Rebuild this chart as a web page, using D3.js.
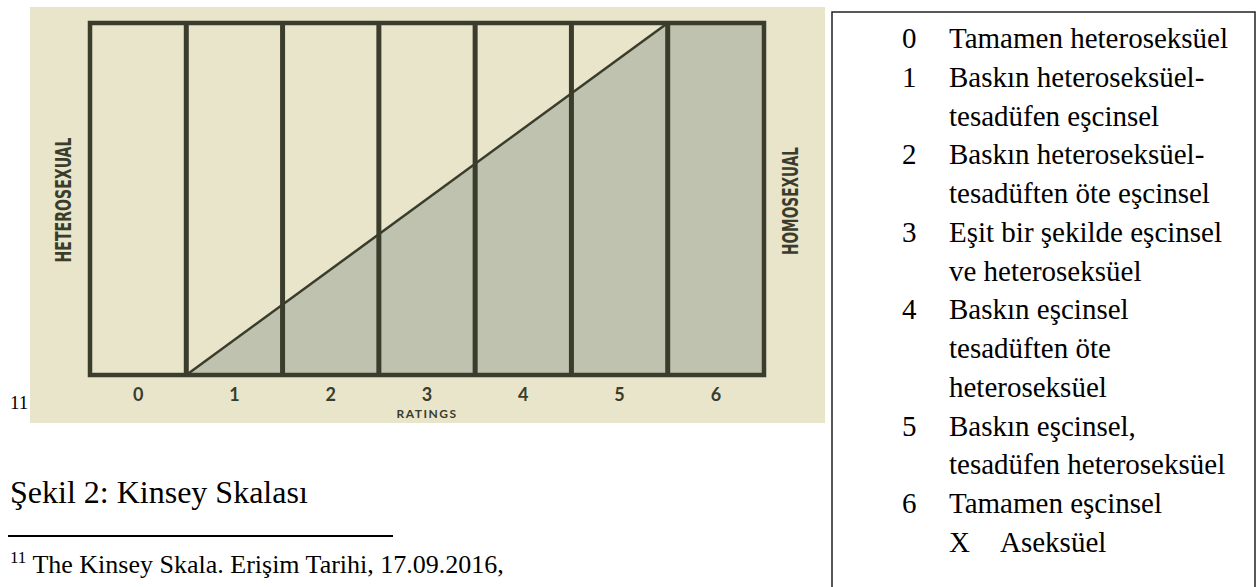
<!DOCTYPE html>
<html>
<head>
<meta charset="utf-8">
<script src="https://cdn.jsdelivr.net/npm/d3@7"></script>
<style>
  body { margin: 0; background: #fff; }
  svg { display: block; }
</style>
</head>
<body>
<div id="body"></div>
<script>
// Kinsey scale data
var ratings = ['0', '1', '2', '3', '4', '5', '6'];
// shaded (homosexual) share along the rating axis, x in rating units
var shadeX = [1, 6, 7];
var shadeTop = [0, 1, 1];

// legend
var legendCodes = ['0', '1', '2', '3', '4', '5', '6', 'X'];
var legendLabels = [
  ['Tamamen heteroseksüel'],
  ['Baskın heteroseksüel-', 'tesadüfen eşcinsel'],
  ['Baskın heteroseksüel-', 'tesadüften öte eşcinsel'],
  ['Eşit bir şekilde eşcinsel', 've heteroseksüel'],
  ['Baskın eşcinsel', 'tesadüften öte', 'heteroseksüel'],
  ['Baskın eşcinsel,', 'tesadüfen heteroseksüel'],
  ['Tamamen eşcinsel'],
  ['Aseksüel']
];

var width = 1258;
var height = 587;
var ink = '#3a3c2c';

var svg = d3.select('#body')
  .append('svg')
  .attr('width', width)
  .attr('height', height);

// scanned picture background
svg.append('rect')
  .attr('x', 30)
  .attr('y', 7)
  .attr('width', 795)
  .attr('height', 416)
  .style('fill', '#e8e5cb');

var x = d3.scaleLinear().domain([0, 7]).range([90, 764]);
var y = d3.scaleLinear().domain([0, 1]).range([375, 23]);

var chart = svg.append('g').attr('id', 'chart');

// shaded area
var shade = shadeX.map(function(d, i) { return [d, shadeTop[i]]; });
chart.append('path')
  .datum(shade)
  .attr('d', d3.area()
    .x(function(d) { return x(d[0]); })
    .y0(y(0))
    .y1(function(d) { return y(d[1]); }))
  .style('fill', '#bec2ae');

// diagonal
chart.append('path')
  .datum(shade.slice(0, 2))
  .attr('d', d3.line()
    .x(function(d) { return x(d[0]); })
    .y(function(d) { return y(d[1]); }))
  .style('stroke', ink)
  .style('stroke-width', 2.5)
  .style('fill', 'none');

// column separators
chart.selectAll('.sep')
  .data(d3.range(1, ratings.length))
  .enter()
  .append('line')
  .attr('class', 'sep')
  .attr('x1', function(d) { return x(d); })
  .attr('x2', function(d) { return x(d); })
  .attr('y1', y(1))
  .attr('y2', y(0))
  .style('stroke', ink)
  .style('stroke-width', 5);

// frame
chart.append('rect')
  .attr('x', x(0))
  .attr('y', y(1))
  .attr('width', x(7) - x(0))
  .attr('height', y(0) - y(1))
  .style('fill', 'none')
  .style('stroke', ink)
  .style('stroke-width', 4.5);

// rating labels
chart.selectAll('.rating')
  .data(ratings)
  .enter()
  .append('text')
  .attr('class', 'rating')
  .attr('x', function(d, i) { return x(i + 0.5); })
  .attr('y', 401)
  .attr('text-anchor', 'middle')
  .style('font-family', 'Lato, sans-serif')
  .style('font-weight', 'bold')
  .style('font-size', '18px')
  .style('fill', ink)
  .text(function(d) { return d; });

chart.append('text')
  .attr('x', x(3.5))
  .attr('y', 418)
  .attr('text-anchor', 'middle')
  .style('font-family', 'Lato, sans-serif')
  .style('font-weight', 'bold')
  .style('font-size', '12px')
  .style('letter-spacing', '1.5px')
  .style('fill', ink)
  .text('RATINGS');

// side labels
chart.append('text')
  .attr('transform', 'translate(71,200) rotate(-90)')
  .attr('text-anchor', 'middle')
  .attr('textLength', 125)
  .attr('lengthAdjust', 'spacingAndGlyphs')
  .style('font-family', '"DejaVu Sans Condensed", sans-serif')
  .style('font-weight', 'bold')
  .style('font-size', '21px')
  .style('fill', ink)
  .text('HETEROSEXUAL');

chart.append('text')
  .attr('transform', 'translate(798,201) rotate(-90)')
  .attr('text-anchor', 'middle')
  .attr('textLength', 108)
  .attr('lengthAdjust', 'spacingAndGlyphs')
  .style('font-family', '"DejaVu Sans Condensed", sans-serif')
  .style('font-weight', 'bold')
  .style('font-size', '21px')
  .style('fill', ink)
  .text('HOMOSEXUAL');

// document texts
var serif = '"Liberation Serif", "Times New Roman", serif';

svg.append('text')
  .attr('x', 10)
  .attr('y', 409)
  .style('font-family', serif)
  .style('font-size', '19px')
  .text('11');

svg.append('text')
  .attr('x', 10)
  .attr('y', 503)
  .style('font-family', serif)
  .style('font-size', '32px')
  .text('Şekil 2: Kinsey Skalası');

svg.append('line')
  .attr('x1', 8)
  .attr('x2', 393)
  .attr('y1', 536)
  .attr('y2', 536)
  .style('stroke', '#000')
  .style('stroke-width', 2);

var foot = svg.append('text')
  .attr('x', 10)
  .attr('y', 573)
  .style('font-family', serif)
  .style('font-size', '26px');
foot.append('tspan')
  .attr('dy', -10)
  .style('font-size', '17px')
  .text('11');
foot.append('tspan')
  .attr('dy', 10)
  .text(' The Kinsey Skala. Erişim Tarihi, 17.09.2016,');

// legend box
svg.append('rect')
  .attr('x', 832)
  .attr('y', 12)
  .attr('width', 423)
  .attr('height', 600)
  .style('fill', 'none')
  .style('stroke', '#222')
  .style('stroke-width', 1.5);

var lineStep = 38.75;
var row = 0;
var legend = svg.append('g').attr('id', 'legend');
legendCodes.forEach(function(code, i) {
  var isX = code === 'X';
  legend.append('text')
    .attr('x', isX ? 949 : 902)
    .attr('y', 48 + row * lineStep)
    .style('font-family', serif)
    .style('font-size', '29px')
    .text(code);
  legendLabels[i].forEach(function(txt) {
    legend.append('text')
      .attr('x', isX ? 1000 : 949)
      .attr('y', 48 + row * lineStep)
      .style('font-family', serif)
      .style('font-size', '29px')
      .text(txt);
    row++;
  });
});
</script>
</body>
</html>
